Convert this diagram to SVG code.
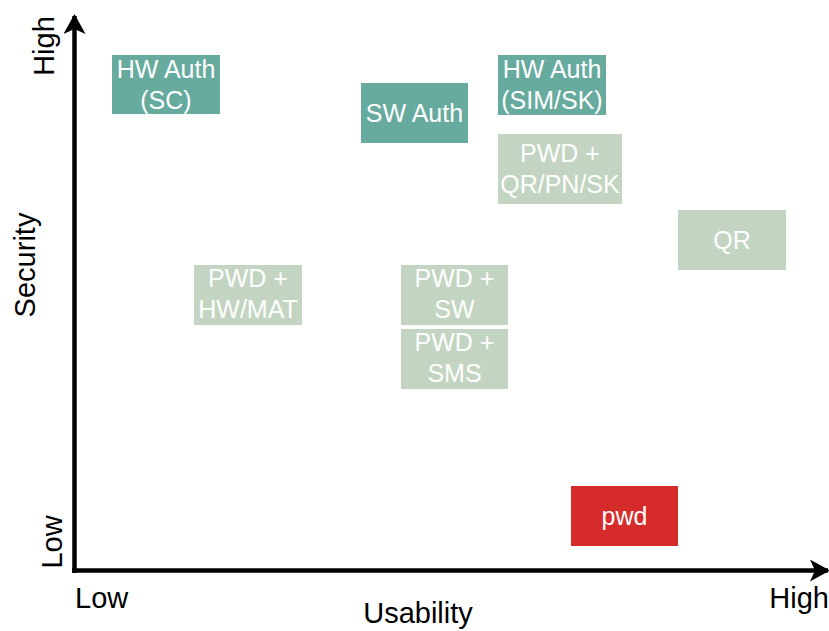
<svg xmlns="http://www.w3.org/2000/svg" width="829" height="631" viewBox="0 0 829 631">
<style>
.t{font-family:"Liberation Sans",Arial,sans-serif;fill:#ffffff;font-size:25px;text-anchor:middle}
.a{font-family:"Liberation Sans",Arial,sans-serif;fill:#000000;font-size:29px}
.dk{fill:#67AB9F}
.lt{fill:#C3D5C2}
.rd{fill:#D62B2B}
</style>
<defs>
<marker id="arr" viewBox="0 0 20 22" refX="18" refY="11" markerWidth="20" markerHeight="22" markerUnits="userSpaceOnUse" orient="auto">
<path d="M0,0 L20,11 L0,22 L5,11 Z" fill="#000"/>
</marker>
</defs>
<g id="axes">
<path d="M74.5,573 V16" stroke="#000" stroke-width="4.5" fill="none" marker-end="url(#arr)"/>
<path d="M72,570.5 H828" stroke="#000" stroke-width="4.5" fill="none" marker-end="url(#arr)"/>
</g>
<g id="labels">
<text class="a" x="75" y="608">Low</text>
<text class="a" x="829" y="608" text-anchor="end">High</text>
<text class="a" x="418" y="623" text-anchor="middle">Usability</text>
<text class="a" transform="translate(35,265) rotate(-90)" text-anchor="middle">Security</text>
<text class="a" transform="translate(54,46) rotate(-90)" text-anchor="middle">High</text>
<text class="a" transform="translate(62,542) rotate(-90)" text-anchor="middle">Low</text>
</g>
<g id="hw-sc"><rect class="dk" x="112" y="55" width="108" height="59"/><text class="t" x="166" y="78">HW Auth</text><text class="t" x="166" y="109">(SC)</text></g>
<g id="sw-auth"><rect class="dk" x="361" y="83" width="107" height="60"/><text class="t" x="414.5" y="122">SW Auth</text></g>
<g id="hw-sim"><rect class="dk" x="498" y="55" width="108" height="60"/><text class="t" x="552" y="78">HW Auth</text><text class="t" x="552" y="109">(SIM/SK)</text></g>
<g id="pwd-qr"><rect class="lt" x="498" y="134" width="124" height="70"/><text class="t" x="560" y="162">PWD +</text><text class="t" x="560" y="193">QR/PN/SK</text></g>
<g id="qr"><rect class="lt" x="678" y="210" width="108" height="60"/><text class="t" x="732" y="249">QR</text></g>
<g id="pwd-hw"><rect class="lt" x="194" y="265" width="108" height="60"/><text class="t" x="248" y="287">PWD +</text><text class="t" x="248" y="318">HW/MAT</text></g>
<g id="pwd-sw"><rect class="lt" x="401" y="265" width="107" height="60"/><text class="t" x="454.5" y="287">PWD +</text><text class="t" x="454.5" y="318">SW</text></g>
<g id="pwd-sms"><rect class="lt" x="401" y="329" width="107" height="60"/><text class="t" x="454.5" y="351">PWD +</text><text class="t" x="454.5" y="382">SMS</text></g>
<g id="pwd"><rect class="rd" x="571" y="486" width="107" height="60"/><text class="t" x="624.5" y="525">pwd</text></g>
</svg>
